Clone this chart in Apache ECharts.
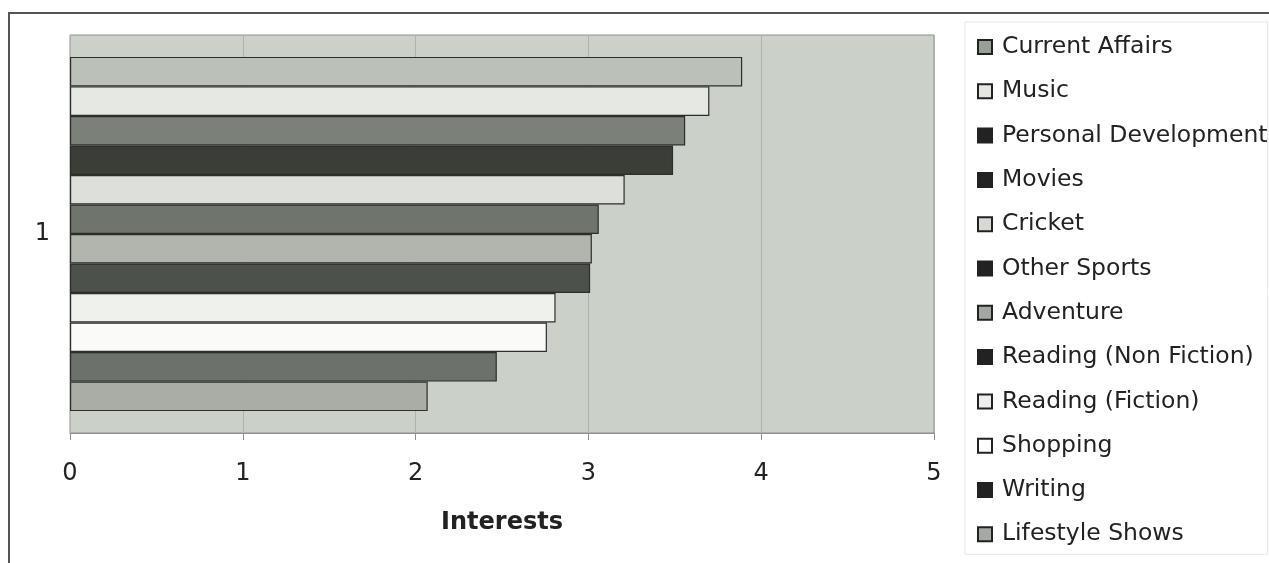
<!DOCTYPE html>
<html>
<head>
<meta charset="utf-8">
<title>Interests</title>
<script src="https://cdn.jsdelivr.net/npm/echarts@6/dist/echarts.min.js"></script>
<style>
  html, body { margin: 0; padding: 0; background: #ffffff; }
  #frame {
    position: absolute; left: 8px; top: 12px; width: 1300px; height: 600px;
    border-top: 2px solid #555; border-left: 2px solid #555;
  }
  #chart { position: absolute; left: 0; top: 0; width: 1269px; height: 563px; }
</style>
</head>
<body>
<div id="frame"></div>
<div id="chart"></div>
<script>
// Average interest score per topic (single response group "1")
const categories = ['1'];
const topics = [
  'Current Affairs', 'Music', 'Personal Development', 'Movies', 'Cricket',
  'Other Sports', 'Adventure', 'Reading (Non Fiction)', 'Reading (Fiction)',
  'Shopping', 'Writing', 'Lifestyle Shows'
];
const scores = [3.89, 3.70, 3.56, 3.49, 3.21, 3.06, 3.02, 3.01, 2.81, 2.76, 2.47, 2.07];
const xTicks = [0, 1, 2, 3, 4, 5];
const axisTitle = 'Interests';

// Fill shades for the bars and the (darker-looking) legend swatches
const barFills = ['#bbc0b9', '#e6e9e3', '#7b8079', '#3a3e37', '#dde0da', '#6f746d',
                  '#b1b5ae', '#4d514b', '#eff1ed', '#fafbf9', '#6d716b', '#a9ada6'];
const swatchFills = ['#9a9e98', '#e4e6e2', '#222222', '#222222', '#d6d8d4', '#222222',
                     '#a3a7a1', '#222222', '#eeeeee', '#ffffff', '#222222', '#a5a9a3'];

const font = "'DejaVu Sans', Verdana, sans-serif";

const chart = echarts.init(document.getElementById('chart'), null, { renderer: 'canvas' });

chart.setOption({
  animation: false,
  backgroundColor: 'transparent',
  grid: {
    left: 70, right: 335, top: 35, bottom: 130,
    show: true, backgroundColor: '#cbd0c9', borderColor: '#8e928c', borderWidth: 1
  },
  legend: {
    orient: 'vertical',
    left: 965, top: 22,
    padding: [13, 0, 8, 12],
    itemWidth: 14, itemHeight: 14,
    itemGap: 20.3,
    borderColor: '#e6e6e6', borderWidth: 1,
    textStyle: { fontFamily: font, fontSize: 23.5, color: '#222', padding: [0, 0, 0, 5] },
    data: topics.map((name, i) => ({
      name,
      icon: 'rect',
      itemStyle: { color: swatchFills[i], borderColor: '#222', borderWidth: 2 }
    }))
  },
  xAxis: {
    type: 'value',
    min: xTicks[0], max: xTicks[xTicks.length - 1], interval: 1,
    name: axisTitle,
    nameLocation: 'middle',
    nameGap: 78,
    nameTextStyle: { fontFamily: font, fontSize: 24, fontWeight: 'bold', color: '#222' },
    axisLine: { show: true, lineStyle: { color: '#8e928c', width: 1 } },
    axisTick: { show: true, inside: false, length: 7, lineStyle: { color: '#8e928c' } },
    axisLabel: { fontFamily: font, fontSize: 24, color: '#222', margin: 29 },
    splitLine: { show: true, lineStyle: { color: '#aeb3ac', width: 1 } }
  },
  yAxis: {
    type: 'category',
    data: categories,
    inverse: true,
    axisLine: { show: false },
    axisTick: { show: false },
    axisLabel: { fontFamily: font, fontSize: 24, color: '#222', margin: 20 }
  },
  series: topics.map((name, i) => ({
    name,
    type: 'bar',
    data: [scores[i]],
    barGap: '0%',
    barCategoryGap: '11%',
    itemStyle: { color: barFills[i], borderColor: '#2b2e29', borderWidth: 1.2 }
  }))
});
</script>
</body>
</html>
